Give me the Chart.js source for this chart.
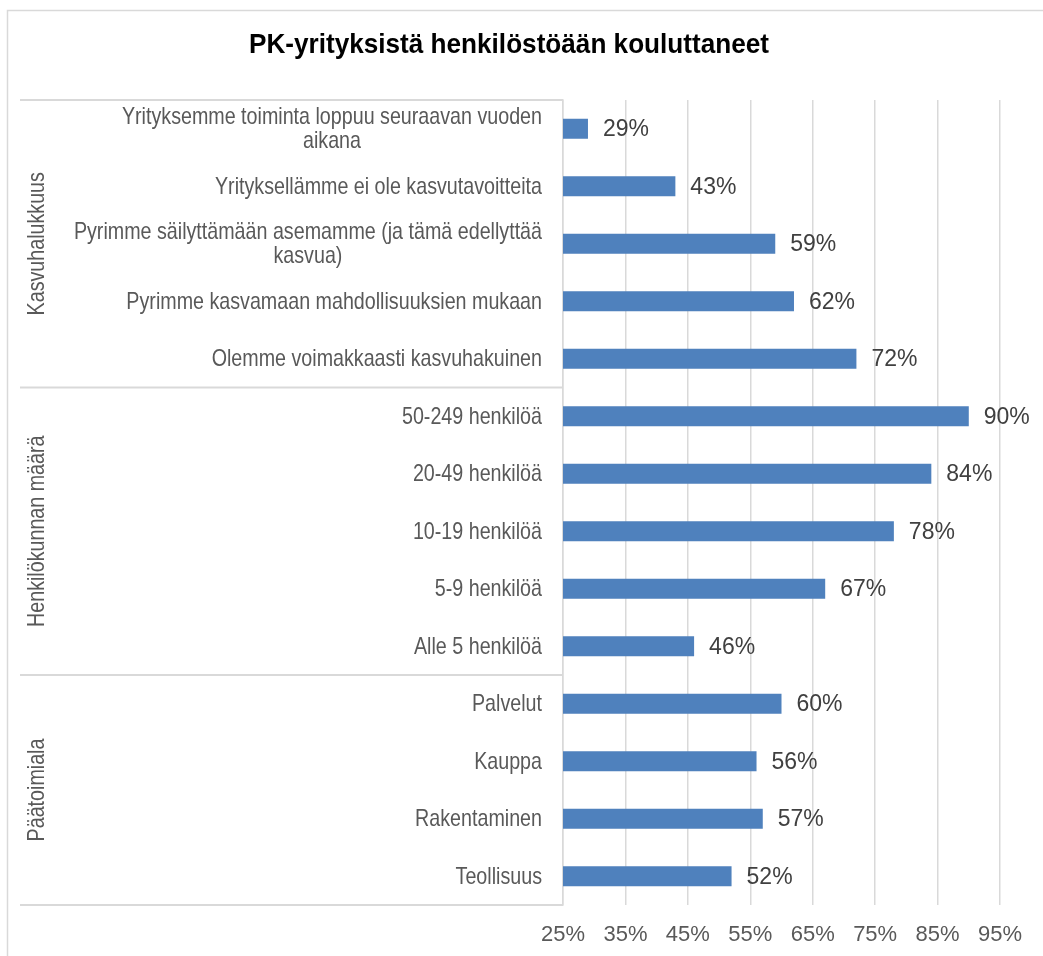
<!DOCTYPE html>
<html><head><meta charset="utf-8">
<script src="https://cdn.jsdelivr.net/npm/chart.js@4"></script>
<style>html,body{margin:0;padding:0;background:#fff}#wrap{width:1043px;height:956px}</style>
</head><body><div id="wrap"><canvas id="c" width="1043" height="956"></canvas></div>
<script>
const chartTitle = 'PK-yrityksistä henkilöstöään kouluttaneet';
const categories = [
  ['Yrityksemme toiminta loppuu seuraavan vuoden', 'aikana'],
  'Yrityksellämme ei ole kasvutavoitteita',
  ['Pyrimme säilyttämään asemamme (ja tämä edellyttää', 'kasvua)'],
  'Pyrimme kasvamaan mahdollisuuksien mukaan',
  'Olemme voimakkaasti kasvuhakuinen',
  '50-249 henkilöä',
  '20-49 henkilöä',
  '10-19 henkilöä',
  '5-9 henkilöä',
  'Alle 5 henkilöä',
  'Palvelut',
  'Kauppa',
  'Rakentaminen',
  'Teollisuus'
];
const values = [29, 43, 59, 62, 72, 90, 84, 78, 67, 46, 60, 56, 57, 52];
const groups = ['Kasvuhalukkuus', 'Henkilökunnan määrä', 'Päätoimiala'];
const groupSizes = [5, 5, 4];
const xMin = 25, xMax = 95, xStep = 10;

// font detection for narrow face
const probe = document.createElement('canvas').getContext('2d');
probe.font = '24px "Liberation Sans Narrow", monospace';
const wN = probe.measureText('Olemme voimakkaasti').width;
probe.font = '24px monospace';
const wM = probe.measureText('Olemme voimakkaasti').width;
const hasNarrow = Math.abs(wN - wM) > 0.5;
const NARROW = hasNarrow ? '"Liberation Sans Narrow"' : '"Liberation Sans"';
const SX = hasNarrow ? 1 : 0.82;

function narrowText(ctx, text, x, y, align, size, weight, color) {
  ctx.save();
  ctx.font = (weight || 'normal') + ' ' + size + 'px ' + NARROW + ', "Liberation Sans", Arial, sans-serif';
  ctx.fillStyle = color;
  ctx.textBaseline = 'middle';
  ctx.textAlign = align;
  ctx.translate(x, y);
  ctx.scale(SX, 1);
  ctx.fillText(text, 0, 0);
  ctx.restore();
}
function narrowWidth(ctx, text, size, weight) {
  ctx.save();
  ctx.font = (weight || 'normal') + ' ' + size + 'px ' + NARROW + ', "Liberation Sans", Arial, sans-serif';
  const w = ctx.measureText(text).width * SX;
  ctx.restore();
  return w;
}

const decor = {
  id: 'decor',
  afterDraw(chart) {
    const ctx = chart.ctx;
    const y = chart.scales.y;
    const ca = chart.chartArea;
    // outer border
    ctx.save();
    ctx.strokeStyle = '#d9d9d9';
    ctx.lineWidth = 1.5;
    ctx.strokeRect(7.5, 10.5, 1100, 1100);
    ctx.restore();
    // title (bold, slightly condensed)
    ctx.save();
    ctx.font = 'bold 28px "Liberation Sans", Arial, sans-serif';
    const tw = ctx.measureText(chartTitle).width;
    const tsx = 520 / tw;
    ctx.fillStyle = '#000000';
    ctx.textAlign = 'center';
    ctx.textBaseline = 'middle';
    ctx.translate(509, 45);
    ctx.scale(tsx, 1);
    ctx.fillText(chartTitle, 0, 0);
    ctx.restore();
    // category labels
    const labelRight = ca.left - 21;
    categories.forEach((lab, i) => {
      const lines = Array.isArray(lab) ? lab : [lab];
      const cy = y.getPixelForValue(i);
      const lh = 24;
      let maxW = 0;
      lines.forEach(l => { maxW = Math.max(maxW, narrowWidth(ctx, l, 24)); });
      const cx = labelRight - maxW / 2;
      lines.forEach((l, k) => {
        const ly = cy + 1 + (k - (lines.length - 1) / 2) * lh;
        narrowText(ctx, l, cx, ly, 'center', 24, 'normal', '#595959');
      });
    });
    // separators & group labels
    const step = y.getPixelForValue(1) - y.getPixelForValue(0);
    ctx.save();
    ctx.strokeStyle = '#d9d9d9';
    ctx.lineWidth = 2;
    let start = 0;
    const bounds = [y.getPixelForValue(0) - step / 2];
    groupSizes.forEach(n => { start += n; bounds.push(y.getPixelForValue(start - 1) + step / 2); });
    bounds.forEach(b => {
      ctx.beginPath(); ctx.moveTo(20, b); ctx.lineTo(ca.left, b); ctx.stroke();
    });
    ctx.restore();
    groups.forEach((g, gi) => {
      const mid = (bounds[gi] + bounds[gi + 1]) / 2;
      ctx.save();
      ctx.translate(37, mid);
      ctx.rotate(-Math.PI / 2);
      narrowText(ctx, g, 0, 0, 'center', 24, 'normal', '#595959');
      ctx.restore();
    });
  },
  afterDatasetsDraw(chart) {
    const ctx = chart.ctx;
    const meta = chart.getDatasetMeta(0);
    ctx.save();
    ctx.font = '23px "Liberation Sans", Arial, sans-serif';
    ctx.fillStyle = '#404040';
    ctx.textAlign = 'left';
    ctx.textBaseline = 'middle';
    meta.data.forEach((bar, i) => {
      ctx.fillText(values[i] + '%', bar.x + 15, bar.y + 1);
    });
    ctx.restore();
  }
};

new Chart(document.getElementById('c'), {
  type: 'bar',
  data: {
    labels: categories,
    datasets: [{
      data: values,
      backgroundColor: '#4f81bd',
      borderColor: '#4f81bd',
      borderWidth: 0,
      barPercentage: 0.35,
      categoryPercentage: 1
    }]
  },
  options: {
    indexAxis: 'y',
    responsive: false,
    animation: false,
    devicePixelRatio: 1,
    layout: { padding: { top: 100, right: 43, left: 0, bottom: 0 } },
    plugins: { legend: { display: false }, title: { display: false }, tooltip: { enabled: false } },
    scales: {
      x: {
        min: xMin, max: xMax,
        afterFit: s => { s.height = 51; },
        ticks: {
          stepSize: xStep,
          padding: 17,
          color: '#595959',
          font: { family: '"Liberation Sans", Arial, sans-serif', size: 22 },
          callback: v => v + '%'
        },
        grid: { color: '#d9d9d9', lineWidth: 1.5, drawTicks: false },
        border: { display: false }
      },
      y: {
        afterFit: s => { s.width = 563; },
        ticks: { display: false },
        grid: { display: false, drawTicks: false },
        border: { display: true, color: '#d9d9d9', width: 1.5 }
      }
    }
  },
  plugins: [decor]
});
</script>
</body></html>
